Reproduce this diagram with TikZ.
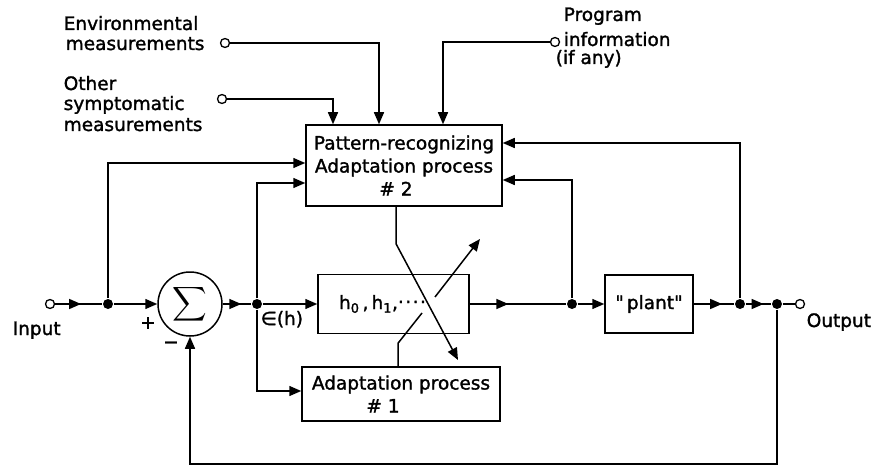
\documentclass[tikz,border=0pt]{standalone}
\usepackage{fontspec}
\setmainfont{DejaVu Sans}[FakeBold=1.5]
\usetikzlibrary{arrows.meta,decorations.markings}
\tikzset{
  tip/.style={-{Triangle[length=12pt,width=10pt]}},
  arrowat/.style={postaction={decorate},decoration={markings,mark=at position #1 with {\arrow{Triangle[length=12pt,width=10pt]}}}},
  blk/.style={draw, rectangle, inner sep=0pt, align=center},
  junc/.style={circle, fill=black, inner sep=0pt, minimum size=10pt},
  port/.style={circle, draw, fill=white, inner sep=0pt, minimum size=9pt, line width=1.3pt},
  lbl/.style={inner sep=0pt, anchor=base west},
}
\begin{document}
\begin{tikzpicture}[x=1pt,y=-1pt,line width=1.5pt,font=\fontsize{18.5}{23}\selectfont]
\useasboundingbox (0,0) rectangle (873,476);
\fill[white] (0,0) rectangle (873,476);

% blocks
\node[blk, minimum width=196pt, minimum height=81pt] (pat) at (404,165.5) {Pattern-recognizing\\Adaptation process\\\hspace*{-16pt}\# 2};
\node[blk, minimum width=151pt, minimum height=59pt] (hb) at (393.5,304) {h\textsubscript{0}\,,\,h\textsubscript{1},\raisebox{6pt}{.\kern1.5pt.\kern1.5pt.\kern1.5pt.}\hspace*{22pt}};
\node[blk, minimum width=198pt, minimum height=54pt] (ad) at (401,394) {Adaptation process\\\hspace*{-36pt}\# 1};
\node[blk, minimum width=88pt, minimum height=58pt] (pl) at (649,304) {\addfontfeatures{Ligatures=TeXOff}"\,plant"};
\node[circle, draw, minimum size=64pt, inner sep=0pt] (sig) at (190,304) {\scalebox{2.4}{$\displaystyle\sum$}};

% ports and junctions
\node[port] (inp) at (50,304) {};
\node[port] (out) at (800,304) {};
\node[port] (env) at (225,43) {};
\node[port] (oth) at (222,99) {};
\node[port] (prog) at (555,42) {};
\node[junc] (j1) at (108,304) {};
\node[junc] (j2) at (257,304) {};
\node[junc] (j3) at (572,304) {};
\node[junc] (j4) at (740,304) {};
\node[junc] (j5) at (777,304) {};

% main path
\draw[arrowat=0.55] (inp) -- (j1);
\draw[tip] (j1) -- (sig);
\draw[arrowat=0.65] (sig) -- (j2);
\draw[tip] (j2) -- (hb);
\draw[arrowat=0.4] (hb) -- (j3);
\draw[tip] (j3) -- (pl);
\draw[arrowat=0.7] (pl) -- (j4);
\draw[arrowat=0.7] (j4) -- (j5);
\draw (j5) -- (out);

% branches
\draw[tip] (j1) |- ([yshift=2.5pt]pat.west);
\draw[tip] (j2) |- ([yshift=-17.5pt]pat.west);
\draw[tip] (j2) |- ([yshift=3pt]ad.west);
\draw[tip] (j3) |- ([yshift=-14.5pt]pat.east);
\draw[tip] (j4) |- ([yshift=22.5pt]pat.east);
\draw[tip] (j5) -- ++(0,160) -| (sig.south);
\draw[tip] (env) -| ([xshift=-25pt]pat.north);
\draw[tip] (oth) -| ([xshift=-71pt]pat.north);
\draw[tip] (prog) -| ([xshift=39pt]pat.north);

% adjustment arrows
\coordinate (d1) at (458,360);
\draw[tip] ([xshift=-8pt]pat.south) -- ++(0,37) -- (d1);
\coordinate (d2a) at (422,313);
\coordinate (d2b) at (435,297);
\coordinate (d2) at (480,239);
\draw ([xshift=-3pt]ad.north) -- ++(0,-23) -- (d2a);
\draw[tip] (d2b) -- (d2);

% labels
\node[lbl] (tenv1) at (63,30) {Environmental};
\node[lbl] (tenv2) at (65,50) {measurements};
\node[lbl] (toth1) at (63,90) {Other};
\node[lbl] (toth2) at (63,110) {symptomatic};
\node[lbl] (toth3) at (63,131) {measurements};
\node[lbl] (tprg1) at (563,21) {Program};
\node[lbl] (tprg2) at (563,46) {information};
\node[lbl] (tprg3) at (555,64) {(if any)};
\node[lbl] (tin) at (12,335) {Input};
\node[lbl] (tout) at (806,327) {Output};
\node[lbl] (teps) at (260,325) {∈(h)};
\node[inner sep=0pt] (plus) at (148,323) {+};
\node[inner sep=0pt] (minus) at (171,345) {−};
\end{tikzpicture}
\end{document}
